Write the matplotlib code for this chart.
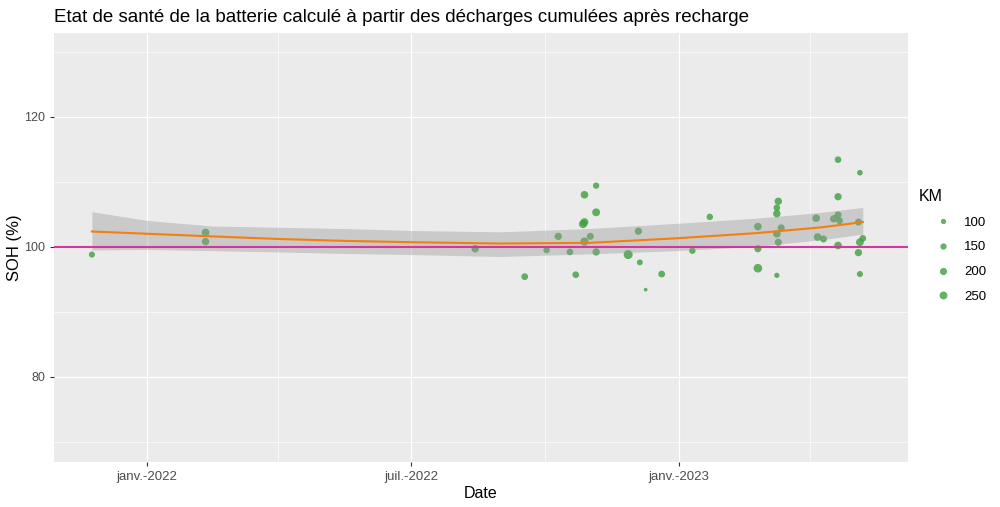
import numpy as np
import pandas as pd
import matplotlib
matplotlib.use("Agg")
import matplotlib.pyplot as plt
from matplotlib.lines import Line2D

plt.rcParams['font.family'] = ['Liberation Sans', 'DejaVu Sans']

# data
dates = ["2021-11-24", "2022-02-10", "2022-02-10", "2022-08-14", "2022-09-17",
         "2022-10-02", "2022-10-10", "2022-10-18", "2022-10-22", "2022-10-28",
         "2022-10-27", "2022-10-28", "2022-10-28", "2022-11-01", "2022-11-05",
         "2022-11-05", "2022-11-05", "2022-11-27", "2022-12-04", "2022-12-05",
         "2022-12-09", "2022-12-20", "2023-01-10", "2023-01-22", "2023-02-24",
         "2023-02-24", "2023-02-24", "2023-03-09", "2023-03-10", "2023-03-09",
         "2023-03-09", "2023-03-12", "2023-03-09", "2023-03-10", "2023-04-05",
         "2023-04-06", "2023-04-10", "2023-04-20", "2023-04-20", "2023-04-20",
         "2023-04-17", "2023-04-21", "2023-04-20", "2023-05-05", "2023-05-04",
         "2023-05-05", "2023-05-07", "2023-05-04", "2023-05-05"]
soh = [98.8, 102.2, 100.8, 99.7, 95.4,
       99.5, 101.6, 99.2, 95.7, 108.0,
       103.5, 103.8, 100.8, 101.6, 109.4,
       105.3, 99.2, 98.8, 102.4, 97.6,
       93.4, 95.8, 99.4, 104.6, 103.1,
       99.7, 96.7, 95.6, 107.0, 106.0,
       105.1, 102.9, 102.0, 100.7, 104.4,
       101.5, 101.2, 113.4, 107.7, 104.9,
       104.3, 104.0, 100.2, 111.4, 103.8,
       100.7, 101.3, 99.1, 95.8]
km = [140, 240, 220, 220, 180,
      160, 210, 170, 170, 230,
      270, 250, 270, 190, 150,
      250, 210, 330, 210, 130,
      40, 180, 160, 160, 230,
      200, 300, 100, 220, 170,
      220, 200, 230, 200, 230,
      230, 190, 170, 210, 190,
      210, 180, 230, 120, 190,
      240, 170, 210, 140]

# smoothed trend (loess) and its confidence band
smooth_dates = ["2021-11-24", "2022-01-01", "2022-02-14", "2022-04-01",
                "2022-05-17", "2022-07-02", "2022-08-31", "2022-10-31",
                "2022-12-30", "2023-02-23", "2023-04-09", "2023-05-07"]
smooth_fit = [102.35, 102.0, 101.6, 101.2, 100.9, 100.7, 100.5, 100.6,
              101.3, 102.1, 103.0, 103.8]
smooth_low = [99.5, 99.6, 99.4, 99.2, 98.97, 98.8, 98.5, 98.9,
              99.4, 100.05, 101.1, 101.95]
smooth_high = [105.4, 104.05, 103.2, 103.0, 102.8, 102.5, 102.3, 102.8,
               103.6, 104.4, 105.3, 106.05]

legend_km = [100, 150, 200, 250]
y_ticks = [80, 100, 120]
x_ticks = ["2022-01-01", "2022-07-01", "2023-01-01"]
x_labels = ["janv.-2022", "juil.-2022", "janv.-2023"]

df = pd.DataFrame({"date": pd.to_datetime(dates), "soh": soh, "km": km})
sm = pd.DataFrame({"date": pd.to_datetime(smooth_dates), "fit": smooth_fit,
                   "low": smooth_low, "high": smooth_high})


def ksize(k):
    return 0.12 * (np.asarray(k) + 20)


fig = plt.figure(figsize=(10, 5.07), dpi=100)
ax = fig.add_axes([0.054, 0.089, 0.854, 0.846])
ax.set_facecolor("#EBEBEB")

ax.scatter(df["date"], df["soh"], s=ksize(df["km"]), color="#3E9E3E",
           alpha=0.8, linewidths=0, zorder=3)
ax.fill_between(sm["date"], sm["low"], sm["high"],
                color="#999999", alpha=0.4, linewidth=0, zorder=4)
ax.plot(sm["date"], sm["fit"], color="#F57F0A", lw=1.5, zorder=5)
ax.axhline(100, color="#D4379B", lw=1.5, zorder=6)

ax.set_yticks(y_ticks)
ax.set_yticks([70, 90, 110, 130], minor=True)
ax.set_xticks(pd.to_datetime(x_ticks))
ax.set_xticklabels(x_labels)
ax.set_xticks(pd.to_datetime(["2022-04-01", "2022-10-01", "2023-04-01"]), minor=True)
ax.set_ylim(66.9, 132.9)
ax.set_xlim(pd.Timestamp("2021-10-29"), pd.Timestamp("2023-06-07"))
ax.grid(which="major", color="white", lw=0.9)
ax.grid(which="minor", color="white", lw=0.45)
ax.set_axisbelow(True)
for s in ax.spines.values():
    s.set_visible(False)
ax.tick_params(which="major", length=3, color="#333333", labelcolor="#4D4D4D",
               labelsize=9.5, width=0.8)
ax.tick_params(axis="y", labelsize=9)
ax.tick_params(which="minor", length=0)

ax.set_xlabel("Date", fontsize=11.5, labelpad=2)
ax.set_ylabel("SOH (%)", fontsize=12, labelpad=1.5)
ax.set_title("Etat de santé de la batterie calculé à partir des décharges cumulées après recharge",
             loc="left", fontsize=13.5, pad=8)

handles = [Line2D([], [], marker="o", ls="", color="#3E9E3E", alpha=0.8,
                  markeredgewidth=0, markersize=np.sqrt(ksize(k))) for k in legend_km]
leg = fig.legend(handles, [str(k) for k in legend_km], title="KM",
                 loc="upper left", bbox_to_anchor=(0.907, 0.651), frameon=False,
                 fontsize=9.5, title_fontsize=11.5, labelspacing=0.95,
                 handletextpad=-0.23, handlelength=3.64, alignment="left")

fig.savefig("out.png", dpi=100)
